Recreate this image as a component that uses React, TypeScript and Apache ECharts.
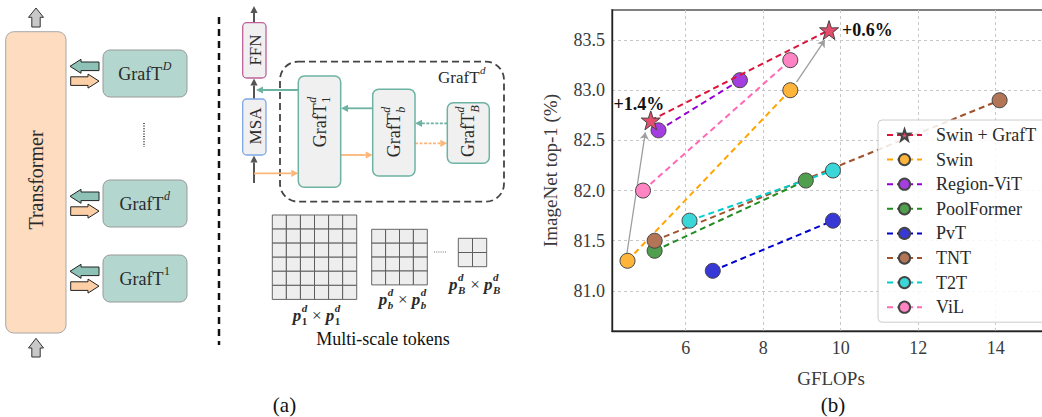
import React, { useEffect, useRef } from 'react';
import * as echarts from 'echarts';

const SERIF = "'Liberation Serif', serif";

// ---------- chart data (b) ----------
const models = ['Swin + GrafT', 'Swin', 'Region-ViT', 'PoolFormer', 'PvT', 'TNT', 'T2T', 'ViL'];
const gflops = [
  [5.1, 9.7],
  [4.5, 8.7],
  [5.3, 7.4],
  [5.2, 9.1],
  [6.7, 9.8],
  [5.2, 14.1],
  [6.1, 9.8],
  [4.9, 8.7],
];
const top1 = [
  [82.7, 83.6],
  [81.3, 83.0],
  [82.6, 83.1],
  [81.4, 82.1],
  [81.2, 81.7],
  [81.5, 82.9],
  [81.7, 82.2],
  [82.0, 83.3],
];
const lineColors = ['#dc143c', '#ffa500', '#9400d3', '#228b22', '#0000cd', '#a0522d', '#00ced1', '#ff69b4'];
const markerColors = ['#e44d6b', '#ffb43a', '#a53ee0', '#4f9f4f', '#3838d6', '#b27555', '#3ad6d8', '#ff84c4'];
const gains = ['+1.4%', '+0.6%'];
const arrowFrom = [[4.48, 81.36], [8.86, 83.08]];
const arrowTo = [[4.96, 82.58], [9.59, 83.5]];
const xTicks = [6, 8, 10, 12, 14];
const yTicks = [81.0, 81.5, 82.0, 82.5, 83.0, 83.5];

const STAR = 'path://M50,0 L61.8,35.1 L97.6,34.5 L69.1,56.7 L79.4,90.9 L50,70 L20.6,90.9 L30.9,56.7 L2.4,34.5 L38.2,35.1 Z';

// ---------- helpers for diagram (a) ----------
let measureCtx: CanvasRenderingContext2D | null = null;
function tw(t: string, size: number, it?: boolean, bd?: boolean) {
  if (!measureCtx) measureCtx = document.createElement('canvas').getContext('2d');
  if (!measureCtx) return t.length * size * 0.5;
  measureCtx.font = `${it ? 'italic' : 'normal'} ${bd ? 'bold' : 'normal'} ${size}px ${SERIF}`;
  return measureCtx.measureText(t).width;
}

type Seg = { t: string; it?: boolean; bd?: boolean; sup?: string; supIt?: boolean; sub?: string; subIt?: boolean };

function mathGroup(segs: Seg[], cx: number, cy: number, size: number, rotation: number, color: string) {
  const small = Math.round(size * 0.66);
  const kids: any[] = [];
  let x = 0;
  const mk = (t: string, px: number, py: number, sz: number, it?: boolean, bd?: boolean) => ({
    type: 'text',
    x: px,
    y: py,
    style: {
      text: t,
      fontSize: sz,
      fontFamily: SERIF,
      fontStyle: it ? 'italic' : 'normal',
      fontWeight: bd ? 'bold' : 'normal',
      fill: color,
      textAlign: 'left',
      textVerticalAlign: 'middle',
    },
  });
  for (const s of segs) {
    kids.push(mk(s.t, x, 0, size, s.it, s.bd));
    x += tw(s.t, size, s.it, s.bd);
    let w2 = 0;
    if (s.sup) {
      kids.push(mk(s.sup, x + 0.5, -size * 0.44, small, s.supIt, s.bd));
      w2 = Math.max(w2, tw(s.sup, small, s.supIt, s.bd));
    }
    if (s.sub) {
      kids.push(mk(s.sub, x + 0.5, size * 0.38, small, s.subIt, s.bd));
      w2 = Math.max(w2, tw(s.sub, small, s.subIt, s.bd));
    }
    if (w2) x += w2 + 1;
  }
  kids.forEach((k) => (k.x -= x / 2));
  return { type: 'group', x: cx, y: cy, rotation, children: kids };
}

function rect(x: number, y: number, w: number, h: number, fill: string, stroke: string, r = 0, lw = 1, dash?: number[]) {
  const style: any = { fill, stroke, lineWidth: lw };
  if (dash) style.lineDash = dash;
  return { type: 'rect', shape: { x, y, width: w, height: h, r }, style };
}

function upArrow(cx: number, tip: number, base: number, bottom: number) {
  const hw = 7.5, sw = 4.2;
  return {
    type: 'polygon',
    shape: { points: [[cx, tip], [cx + hw, base], [cx + sw, base], [cx + sw, bottom], [cx - sw, bottom], [cx - sw, base], [cx - hw, base]] },
    style: { fill: '#c8c8c8', stroke: '#333', lineWidth: 1 },
  };
}

function blockArrow(tipX: number, tailX: number, cy: number, fill: string) {
  const d = tailX > tipX ? 1 : -1;
  const hl = 11, hh = 7, sh = 4.3;
  const bx = tipX + d * hl;
  return {
    type: 'polygon',
    shape: { points: [[tipX, cy], [bx, cy - hh], [bx, cy - sh], [tailX, cy - sh], [tailX, cy + sh], [bx, cy + sh], [bx, cy + hh]] },
    style: { fill, stroke: '#222', lineWidth: 1 },
  };
}

function arrow(x1: number, y1: number, x2: number, y2: number, color: string, lw = 1.8, dash?: number[]) {
  const ang = Math.atan2(y2 - y1, x2 - x1);
  const L = 7, W = 3.6;
  const bx = x2 - L * Math.cos(ang), by = y2 - L * Math.sin(ang);
  const px = -Math.sin(ang) * W, py = Math.cos(ang) * W;
  const ls: any = { stroke: color, lineWidth: lw };
  if (dash) ls.lineDash = dash;
  return [
    { type: 'line', shape: { x1, y1, x2: bx, y2: by }, style: ls },
    { type: 'polygon', shape: { points: [[x2, y2], [bx + px, by + py], [bx - px, by - py]] }, style: { fill: color } },
  ];
}

function cellGrid(x0: number, y0: number, n: number, c: number) {
  const out: any[] = [];
  for (let i = 0; i < n; i++)
    for (let j = 0; j < n; j++) out.push(rect(x0 + i * c, y0 + j * c, c, c, '#eeeeee', '#555', 0, 0.9));
  return out;
}

function diagram(): any[] {
  const els: any[] = [];
  const TXT = '#2a2a2a';
  // Transformer column
  els.push(rect(5.7, 31.7, 60.3, 301.3, '#fddcc0', '#a8a8a8', 8, 1));
  els.push(mathGroup([{ t: 'Transformer' }], 36, 180, 20, Math.PI / 2, TXT));
  els.push(upArrow(36, 8, 17.3, 27));
  els.push(upArrow(36, 338.3, 348, 357));
  // GrafT boxes
  const boxes: [number, number, string, boolean][] = [
    [50, 97, 'D', true],
    [180, 227, 'd', true],
    [255, 302, '1', false],
  ];
  for (const [y0, y1, sup, supIt] of boxes) {
    const c = (y0 + y1) / 2;
    els.push(rect(103, y0, 84, y1 - y0, '#b3d7cf', '#999', 7, 1));
    els.push(mathGroup([{ t: 'GrafT', sup, supIt }], 145, c, 18, 0, TXT));
    els.push(blockArrow(70, 99, c - 7.2, '#8fc2b6'));
    els.push(blockArrow(99, 70.7, c + 7.6, '#fdcfa6'));
  }
  els.push({ type: 'line', shape: { x1: 144, y1: 123, x2: 144, y2: 147 }, style: { stroke: '#333', lineWidth: 1.6, lineDash: [1, 1.6] } });
  // separator
  els.push({ type: 'line', shape: { x1: 219, y1: 17, x2: 219, y2: 345 }, style: { stroke: '#111', lineWidth: 2.5, lineDash: [7, 5] } });

  // main vertical flow
  els.push(...arrow(254, 183, 254, 155.5, '#555', 2));
  els.push(...arrow(254, 99, 254, 78.5, '#555', 2));
  els.push(...arrow(254, 22.7, 254, 6, '#555', 2));
  els.push(rect(242.7, 22.7, 23.3, 55.3, '#f0f0f0', '#c0609c', 4, 1.3));
  els.push(rect(242.7, 99, 23.3, 56, '#f0f0f0', '#7fa6e6', 4, 1.3));
  els.push(mathGroup([{ t: 'FFN' }], 255, 50, 17, Math.PI / 2, TXT));
  els.push(mathGroup([{ t: 'MSA' }], 255, 126, 17, Math.PI / 2, TXT));

  // dashed GrafT^d container
  els.push(rect(280, 61.7, 224, 140, 'none', '#444', 18, 1.8, [7, 4]));
  els.push(mathGroup([{ t: 'GrafT', sup: 'd', supIt: true }], 462, 77, 17, 0, TXT));

  const TEAL = '#6db3a3';
  const PEACH = '#fdb67a';
  els.push(...arrow(298.3, 90, 256, 90, TEAL, 1.8));
  els.push(...arrow(254, 173.3, 298.3, 173.3, PEACH, 1.8));
  els.push(...arrow(372.7, 108.3, 341, 108.3, TEAL, 1.8));
  els.push(...arrow(341, 155, 372.7, 155, PEACH, 1.8));
  els.push(...arrow(447.3, 123.3, 415, 123.3, TEAL, 1.8, [3, 1.5]));
  els.push(...arrow(415, 143.3, 447.3, 143.3, PEACH, 1.8, [3, 1.5]));

  els.push(rect(298.3, 76, 42.4, 111.3, '#f0f0f0', TEAL, 6, 1.5));
  els.push(rect(372.7, 89.3, 42.3, 86.7, '#f0f0f0', TEAL, 6, 1.5));
  els.push(rect(447.3, 102.7, 42, 60.6, '#f0f0f0', TEAL, 6, 1.5));
  els.push(mathGroup([{ t: 'GrafT', sup: 'd', supIt: true, sub: '1' }], 319.5, 121.7, 18, Math.PI / 2, TXT));
  els.push(mathGroup([{ t: 'GrafT', sup: 'd', supIt: true, sub: 'b', subIt: true }], 393.8, 131.7, 18, Math.PI / 2, TXT));
  els.push(mathGroup([{ t: 'GrafT', sup: 'd', supIt: true, sub: 'B', subIt: true }], 468.3, 130.8, 18, Math.PI / 2, TXT));

  // multi-scale token grids
  els.push(...cellGrid(272.3, 215, 6, 14.07));
  els.push(...cellGrid(371.7, 229.3, 4, 13.9));
  els.push(...cellGrid(458.3, 238.3, 2, 14.2));
  els.push({ type: 'line', shape: { x1: 434, y1: 252, x2: 447, y2: 252 }, style: { stroke: '#777', lineWidth: 1, lineDash: [1, 1.2] } });
  const pLabel = (sub: string, subIt: boolean, cx: number, cy: number) =>
    mathGroup(
      [
        { t: 'p', it: true, bd: true, sup: 'd', supIt: true, sub, subIt },
        { t: ' × ' },
        { t: 'p', it: true, bd: true, sup: 'd', supIt: true, sub, subIt },
      ],
      cx,
      cy,
      17,
      0,
      TXT
    );
  els.push(pLabel('1', false, 316.7, 315));
  els.push(pLabel('b', true, 402.7, 299));
  els.push(pLabel('B', true, 475, 284));
  els.push({ type: 'text', x: 383, y: 338.5, style: { text: 'Multi-scale tokens', fontSize: 18, fontFamily: SERIF, fill: '#111', textAlign: 'center', textVerticalAlign: 'middle' } });
  els.push({ type: 'text', x: 284.5, y: 405, style: { text: '(a)', fontSize: 21, fontFamily: SERIF, fill: '#111', textAlign: 'center', textVerticalAlign: 'middle' } });
  els.push({ type: 'text', x: 833, y: 405, style: { text: '(b)', fontSize: 21, fontFamily: SERIF, fill: '#111', textAlign: 'center', textVerticalAlign: 'middle' } });
  return els;
}

function buildOption(): any {
  const lineSeries = models.map((name, i) => ({
    name,
    type: 'line',
    z: i === 0 ? 6 : 3,
    data: gflops[i].map((x, j) => {
      const item: any = { value: [x, top1[i][j]] };
      if (i === 0) {
        item.label =
          j === 0
            ? { show: true, formatter: gains[0], position: 'top', distance: 0, offset: [-12, 3], fontFamily: SERIF, fontWeight: 'bold', fontSize: 18, color: '#111' }
            : { show: true, formatter: gains[1], position: 'right', distance: 3, fontFamily: SERIF, fontWeight: 'bold', fontSize: 18, color: '#111' };
      }
      return item;
    }),
    symbol: i === 0 ? STAR : 'circle',
    symbolSize: i === 0 ? 19 : 15,
    showAllSymbol: true,
    itemStyle: { color: markerColors[i], borderColor: '#444', borderWidth: 1 },
    lineStyle: { color: lineColors[i], width: 2, type: [6, 4] },
    emphasis: { disabled: true },
    silent: true,
  }));

  const arrowSeries = {
    type: 'lines',
    coordinateSystem: 'cartesian2d',
    data: arrowFrom.map((f, i) => ({ coords: [f, arrowTo[i]] })),
    lineStyle: { color: '#9e9e9e', width: 1.3, opacity: 1, curveness: 0 },
    symbol: ['none', 'arrow'],
    symbolSize: 7,
    z: 2,
    silent: true,
  };

  return {
    animation: false,
    backgroundColor: '#ffffff',
    textStyle: { fontFamily: SERIF },
    grid: {
      left: 612,
      top: 10,
      right: -8,
      bottom: 86,
      show: true,
      borderColor: '#808080',
      borderWidth: 2,
      containLabel: false,
      outerBoundsMode: 'none',
    },
    xAxis: {
      type: 'value',
      min: 4.1,
      max: 15.4,
      axisLine: { show: true, onZero: false, lineStyle: { color: '#222', width: 1.4 } },
      axisTick: { show: false, customValues: xTicks },
      axisLabel: { customValues: xTicks, fontFamily: SERIF, fontSize: 18, color: '#3a3a3a', margin: 8 },
      splitLine: { show: true, lineStyle: { color: '#c8c8c8', type: [3, 3], width: 1 } },
      name: 'GFLOPs',
      nameLocation: 'middle',
      nameGap: 38,
      nameTextStyle: { fontFamily: SERIF, fontSize: 19, color: '#3a3a3a' },
    },
    yAxis: {
      type: 'value',
      min: 80.6,
      max: 83.8,
      axisLine: { show: true, onZero: false, lineStyle: { color: '#222', width: 1.4 } },
      axisTick: { show: false, customValues: yTicks },
      axisLabel: { customValues: yTicks, formatter: (v: number) => v.toFixed(1), fontFamily: SERIF, fontSize: 18, color: '#3a3a3a', margin: 7 },
      splitLine: { show: true, lineStyle: { color: '#c8c8c8', type: [3, 3], width: 1 } },
      name: 'ImageNet top-1 (%)',
      nameLocation: 'middle',
      nameGap: 52,
      nameTextStyle: { fontFamily: SERIF, fontSize: 19, color: '#3a3a3a' },
    },
    legend: {
      data: models,
      orient: 'vertical',
      left: 878,
      top: 120,
      itemWidth: 35,
      itemHeight: 14,
      itemGap: 6.6,
      padding: [6, 10, 6, 8],
      selectedMode: false,
      backgroundColor: 'rgba(255,255,255,0.85)',
      borderColor: '#cccccc',
      borderWidth: 1,
      borderRadius: 4,
      textStyle: { fontFamily: SERIF, fontSize: 18, color: '#2a2a2a', padding: [0, 0, 0, 9] },
    },
    series: [arrowSeries, ...lineSeries],
    graphic: { elements: diagram() },
  };
}

export default function App() {
  const ref = useRef<HTMLDivElement>(null);
  useEffect(() => {
    if (!ref.current) return;
    const chart = echarts.init(ref.current, null, { renderer: 'svg' });
    chart.setOption(buildOption());
    return () => chart.dispose();
  }, []);
  return <div ref={ref} style={{ position: 'absolute', left: 0, top: 0, width: 1042, height: 417, background: '#fff' }} />;
}
